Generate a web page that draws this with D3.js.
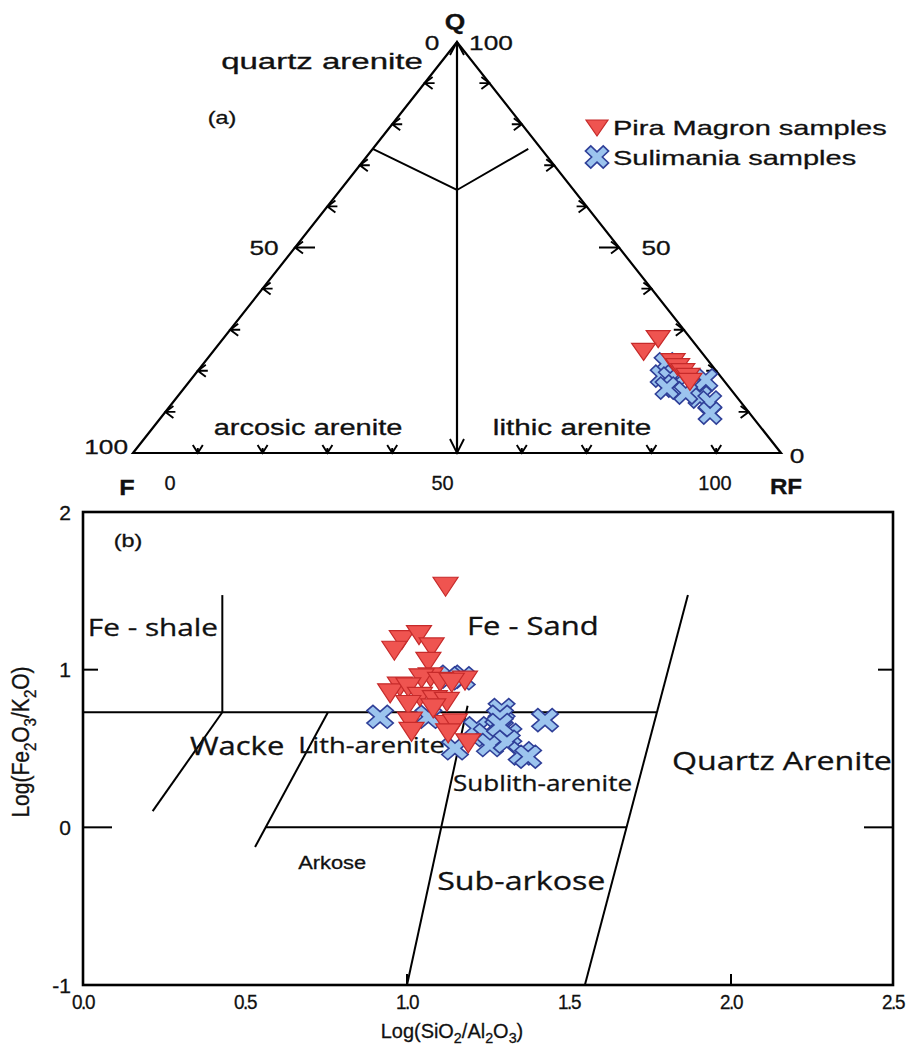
<!DOCTYPE html>
<html>
<head>
<meta charset="utf-8">
<script src="https://cdn.jsdelivr.net/npm/d3@7"></script>
<style>
  body { margin: 0; background: #fff; }
  svg text { font-family: "Liberation Sans", Arial, sans-serif; fill: #111; stroke: #111; stroke-width: 0.3px; }
  .region { font-family: "Open Sans", "Noto Sans", sans-serif; }
</style>
</head>
<body>
<div id="chart"></div>
<script>
// ── (a) Q-F-RF ternary, values in % as [Q, F, RF] ─────────────────────────────
const piraTernary = [
  [27.7, 5.1, 67.2], [24.6, 8.9, 66.5], [22.1, 5.6, 72.3], [20.9, 5.5, 73.6],
  [19.7, 5.3, 75.0], [18.5, 5.1, 76.4], [17.3, 5.4, 77.3]
];
const sulimaniaTernary = [
  [21.7, 6.9, 71.4], [18.7, 9.0, 72.3], [18.2, 8.0, 73.8], [16.3, 8.2, 75.5],
  [15.8, 9.7, 74.5], [16.3, 4.8, 78.9], [17.8, 2.7, 79.5], [13.6, 5.7, 80.7],
  [12.4, 4.8, 82.8], [9.7, 6.1, 84.2], [14.6, 7.4, 78.0]
];
const ternaryTicks = [10, 20, 30, 40, 50, 60, 70, 80, 90];
const edgeTickLabels = [0, 50, 100];
const quartzBoundary = [[74, 26, 0], [64, 18, 18], [74, 2, 24]];

// ── (b) Log(SiO2/Al2O3) vs Log(Fe2O3/K2O) ─────────────────────────────────────
const piraHerron = [
  [1.119, 1.526], [0.984, 1.188], [1.037, 1.219], [1.076, 1.141], [0.961, 1.120],
  [1.066, 1.050], [1.073, 0.951], [1.045, 0.945], [1.102, 0.923], [1.179, 0.930],
  [1.138, 0.917], [0.978, 0.892], [0.948, 0.850], [1.004, 0.888], [1.040, 0.828],
  [1.004, 0.776], [1.086, 0.807], [1.123, 0.796], [1.081, 0.755], [1.009, 0.670],
  [1.014, 0.606], [1.123, 0.649], [1.148, 0.659], [1.127, 0.596], [1.189, 0.533]
];
const sulimaniaHerron = [
  [0.917, 0.701], [1.066, 0.701], [1.133, 0.955], [1.169, 0.945], [1.292, 0.744],
  [1.287, 0.701], [1.426, 0.680], [1.215, 0.628], [1.282, 0.628], [1.246, 0.585],
  [1.313, 0.585], [1.256, 0.522], [1.308, 0.543], [1.148, 0.501], [1.354, 0.469],
  [1.374, 0.448], [1.287, 0.649]
];
const xTicks = [0, 0.5, 1, 1.5, 2, 2.5];
const xTickLabels = ["0.0", "0.5", "1.0", "1.5", "2.0", "2.5"];
const yTicks = [-1, 0, 1, 2];
const herronBoundaries = [
  [[0, 0.73], [1.771, 0.73]],
  [[0.43, 0.73], [0.43, 1.473]],
  [[0.43, 0.73], [0.215, 0.103]],
  [[0.756, 0.73], [0.531, -0.125]],
  [[0.564, 0], [1.678, 0]],
  [[1.0, -1], [1.187, 0.771]],
  [[1.549, -1], [1.867, 1.473]]
];

const RED = "#ef5450", RED_DARK = "#c62a2a";
const BLUE = "#9cc4ee", BLUE_DARK = "#2f3f98";
const SX = 1.36;

const svg = d3.select("#chart").append("svg")
  .attr("width", 906).attr("height", 1046);

// stretched text, the figure is wider than tall
function label(g, x, y, txt, o = {}) {
  return g.append("text")
    .attr("transform", `translate(${x},${y}) scale(${o.sx ?? SX},1)${o.rotate ? ` rotate(${o.rotate})` : ""}`)
    .attr("text-anchor", o.anchor || "middle")
    .attr("dominant-baseline", "central")
    .attr("font-size", (o.size || 20) + "px")
    .attr("font-weight", o.bold ? "bold" : null)
    .attr("class", o.cls || null)
    .text(txt);
}

function trianglePath(w, h) {
  return `M${-w / 2},${-h / 2}L${w / 2},${-h / 2}L0,${h / 2}Z`;
}
function crossPath(a, t, sx) {
  const pts = [[t, t], [a, t], [a, -t], [t, -t], [t, -a], [-t, -a], [-t, -t], [-a, -t], [-a, t], [-t, t], [-t, a], [t, a]];
  return "M" + pts.map(([x, y]) => [((x - y) / Math.SQRT2) * sx, (x + y) / Math.SQRT2].join(",")).join("L") + "Z";
}

// ── (a) ternary ──────────────────────────────────────────────────────────────
const qY = d3.scaleLinear().domain([0, 100]).range([453, 42]);
const tX = d3.scaleLinear().domain([0, 100]).range([133, 781]);
const tern = ([q, f, rf]) => [tX(rf + q / 2), qY(q)];

const ga = svg.append("g");
const line = d3.line();
const apex = tern([100, 0, 0]), vF = tern([0, 100, 0]), vRF = tern([0, 0, 100]);

ga.append("path").attr("d", line([apex, vF, vRF]) + "Z")
  .attr("fill", "none").attr("stroke", "#000").attr("stroke-width", 2.2).attr("stroke-linejoin", "miter");

ga.append("path").attr("d", line([apex, tern([0, 50, 50])]))
  .attr("stroke", "#000").attr("stroke-width", 2.2);

ga.append("path").attr("d", line(quartzBoundary.map(tern)))
  .attr("fill", "none").attr("stroke", "#000").attr("stroke-width", 1.9);

// arrow ticks: tip on the edge, pointing outwards along dir
function arrowTick(p, dir, shaft, head, spread) {
  const [dx, dy] = dir, nx = -dy, ny = dx;
  const back = [p[0] - dx * head, p[1] - dy * head];
  const d = `M${p[0] - dx * shaft},${p[1] - dy * shaft}L${p[0]},${p[1]}` +
    `M${back[0] + nx * spread},${back[1] + ny * spread}L${p[0]},${p[1]}L${back[0] - nx * spread},${back[1] - ny * spread}`;
  ga.append("path").attr("d", d).attr("fill", "none").attr("stroke", "#000").attr("stroke-width", 1.9);
}

ternaryTicks.forEach(v => {
  const big = v === 50;
  arrowTick(tern([100 - v, v, 0]), [-1, 0], big ? 20 : 10, 8, 6);
  arrowTick(tern([v, 0, 100 - v]), [1, 0], big ? 20 : 10, 8, 6);
  if (big) arrowTick(tern([0, 100 - v, v]), [0, 1], 0, 14, 7);
  else arrowTick(tern([0, 100 - v, v]), [0, 1], 5, 8, 5);
});
arrowTick(apex, [0, -1], 0, 13, 7);

// edge labels
edgeTickLabels.forEach(v => {
  const pl = tern([100 - v, v, 0]);
  const pr = tern([v, 0, 100 - v]);
  const o = { size: 21, sx: 1.25 };
  if (v === 100) label(ga, pl[0] - 5, pl[1] - 7, v, { ...o, anchor: "end" });
  else if (v === 50) label(ga, pl[0] - 31, pl[1], v, o);
  else label(ga, pl[0] - 25, pl[1], v, o);
  if (v === 100) label(ga, pr[0] + 34, pr[1], v, o);
  else if (v === 50) label(ga, pr[0] + 37, pr[1], v, o);
  else label(ga, pr[0] + 16, pr[1] + 2, v, o);
});
const bottomLabelX = d3.scaleLinear().domain([0, 100]).range([170, 715]);
edgeTickLabels.forEach(v => label(ga, bottomLabelX(v), 482, v, { size: 21, sx: 0.95 }));

label(ga, apex[0] - 2, 21, "Q", { size: 22, bold: true, sx: 1.2 });
label(ga, vF[0] - 6, 488, "F", { size: 22, bold: true, sx: 1.15 });
label(ga, vRF[0] + 5, 486, "RF", { size: 22, bold: true, sx: 1.1 });

label(ga, 322, 62, "quartz arenite", { size: 22, sx: 1.5 });
label(ga, 222, 118, "(a)", { size: 18, sx: 1.3 });
label(ga, 308, 427, "arcosic arenite", { size: 22, sx: 1.32 });
label(ga, 572, 427, "lithic arenite", { size: 22, sx: 1.35 });

ga.selectAll("path.sul").data(sulimaniaTernary).join("path").attr("class", "sul")
  .attr("d", crossPath(12, 3.6, 1.05))
  .attr("transform", d => `translate(${tern(d)})`)
  .attr("fill", BLUE).attr("stroke", BLUE_DARK).attr("stroke-width", 1.6);
ga.selectAll("path.pira").data(piraTernary).join("path").attr("class", "pira")
  .attr("d", trianglePath(24, 17))
  .attr("transform", d => `translate(${tern(d)})`)
  .attr("fill", RED).attr("stroke", RED_DARK).attr("stroke-width", 1.2);

// legend
const legend = ga.append("g");
legend.append("path").attr("d", trianglePath(22, 16)).attr("transform", "translate(597,128)")
  .attr("fill", RED).attr("stroke", RED_DARK).attr("stroke-width", 1.2);
legend.append("path").attr("d", crossPath(12, 3.6, 1.05)).attr("transform", "translate(597,157)")
  .attr("fill", BLUE).attr("stroke", BLUE_DARK).attr("stroke-width", 1.6);
label(legend, 613, 128, "Pira Magron samples", { anchor: "start", size: 21, sx: 1.38 });
label(legend, 613, 158, "Sulimania samples", { anchor: "start", size: 21, sx: 1.38 });

// ── (b) Herron-type classification ───────────────────────────────────────────
const x = d3.scaleLinear().domain([0, 2.5]).range([83, 893]);
const y = d3.scaleLinear().domain([-1, 2]).range([985, 512]);
const gb = svg.append("g");

gb.selectAll("path.bound").data(herronBoundaries).join("path").attr("class", "bound")
  .attr("d", d => line(d.map(([a, b]) => [x(a), y(b)])))
  .attr("stroke", "#000").attr("stroke-width", 2);

// inner ticks
const yTickLen = v => (v === 0 ? 29 : 15);
gb.selectAll("line.yl").data(yTicks.filter(v => v === 0 || v === 1)).join("line").attr("class", "yl")
  .attr("x1", x(0)).attr("x2", d => x(0) + yTickLen(d)).attr("y1", d => y(d)).attr("y2", d => y(d))
  .attr("stroke", "#000").attr("stroke-width", 2);
gb.selectAll("line.yr").data(yTicks.filter(v => v === 0 || v === 1)).join("line").attr("class", "yr")
  .attr("x1", x(2.5)).attr("x2", d => x(2.5) - yTickLen(d)).attr("y1", d => y(d)).attr("y2", d => y(d))
  .attr("stroke", "#000").attr("stroke-width", 2);
gb.selectAll("line.xt").data(xTicks.filter(v => v === 1 || v === 2)).join("line").attr("class", "xt")
  .attr("x1", d => x(d)).attr("x2", d => x(d)).attr("y1", y(-1)).attr("y2", y(-1) - 11)
  .attr("stroke", "#000").attr("stroke-width", 2);

gb.append("rect").attr("x", x(0)).attr("y", y(2)).attr("width", x(2.5) - x(0)).attr("height", y(-1) - y(2))
  .attr("fill", "none").attr("stroke", "#000").attr("stroke-width", 2.6);

xTicks.forEach((v, i) => label(gb, x(v), 1002, xTickLabels[i], { size: 21, sx: 0.9 })
  .attr("letter-spacing", "-1.5px"));
yTicks.forEach(v => label(gb, 71, y(v), v, { anchor: "end", size: 21, sx: 1.0 }));

function subLabel(g, tx, ty, parts, o) {
  const t = g.append("text")
    .attr("transform", `translate(${tx},${ty}) scale(${o.sx},1)${o.rotate ? ` rotate(${o.rotate})` : ""}`)
    .attr("text-anchor", "middle").attr("dominant-baseline", "central")
    .attr("font-size", o.size + "px");
  parts.forEach(([s, sub]) => {
    t.append("tspan").attr("font-size", sub ? (o.size * 0.72) + "px" : null)
      .attr("baseline-shift", sub ? "sub" : null).text(s);
  });
  return t;
}
subLabel(gb, 452, 1030, [["Log(SiO"], ["2", 1], ["/Al"], ["2", 1], ["O"], ["3", 1], [")"]], { size: 21, sx: 0.95 });
subLabel(gb, 21, 742, [["Log(Fe"], ["2", 1], ["O"], ["3", 1], ["/K"], ["2", 1], ["O)"]], { size: 21, sx: 1.1, rotate: -90 });

label(gb, x(0) + 45, 541, "(b)", { size: 18, sx: 1.3 });

const regions = [
  ["Fe - shale", 0.015, 1.27, 24],
  ["Fe - Sand", 1.185, 1.283, 25],
  ["Wacke", 0.330, 0.522, 25],
  ["Lith-arenite", 0.664, 0.522, 22],
  ["Sublith-arenite", 1.142, 0.281, 21],
  ["Quartz Arenite", 1.818, 0.427, 26],
  ["Sub-arkose", 1.093, -0.334, 26]
];
regions.forEach(([t, a, b, s]) => label(gb, x(a), y(b), t, { anchor: "start", size: s, sx: 1.24, cls: "region" }));
label(gb, x(0.664), y(-0.22), "Arkose", { anchor: "start", size: 19, sx: 1.15 });

gb.selectAll("path.sul").data(sulimaniaHerron).join("path").attr("class", "sul")
  .attr("d", crossPath(12.5, 3.7, 1.15))
  .attr("transform", d => `translate(${x(d[0])},${y(d[1])})`)
  .attr("fill", BLUE).attr("stroke", BLUE_DARK).attr("stroke-width", 1.6);
gb.selectAll("path.pira").data(piraHerron).join("path").attr("class", "pira")
  .attr("d", trianglePath(25, 19))
  .attr("transform", d => `translate(${x(d[0])},${y(d[1])})`)
  .attr("fill", RED).attr("stroke", RED_DARK).attr("stroke-width", 1.2);
</script>
</body>
</html>
